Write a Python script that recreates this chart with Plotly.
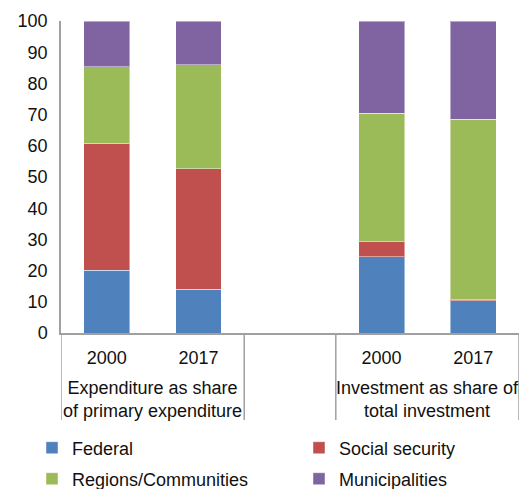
import plotly.graph_objects as go

categories = ["Exp 2000", "Exp 2017", "gap", "Inv 2000", "Inv 2017"]
tick_labels = ["2000", "2017", "", "2000", "2017"]
group_labels = ["Expenditure as share<br>of primary expenditure",
                "Investment as share of<br>total investment"]

federal = [20.1, 14.0, None, 24.4, 10.3]
social_security = [40.7, 38.7, None, 4.9, 0.4]
regions = [24.6, 33.2, None, 41.2, 57.8]
municipalities = [14.6, 14.1, None, 29.5, 31.5]

series = [
    ("Federal", federal, "#4F81BD"),
    ("Social security", social_security, "#C0504D"),
    ("Regions/Communities", regions, "#9BBB59"),
    ("Municipalities", municipalities, "#8064A2"),
]
legend_ids = ["legend", "legend2", "legend3", "legend4"]

fig = go.Figure()
for (name, vals, color), lg in zip(series, legend_ids):
    fig.add_trace(go.Bar(
        x=categories, y=vals, name=name,
        marker=dict(color=color, line=dict(color="rgba(255,255,255,0.45)", width=1)),
        legend=lg,
    ))

W, H = 522, 489
font = dict(family="Liberation Sans, Arial, sans-serif", size=18, color="#111111")
grey = "#A0A0A0"

# group labels and dividers
n = len(categories)
fig.add_annotation(x=0.5, y=-0.213, xref="x", yref="paper", text=group_labels[0],
                   showarrow=False, yanchor="middle", xanchor="center", font=font)
fig.add_annotation(x=3.5, y=-0.213, xref="x", yref="paper", text=group_labels[1],
                   showarrow=False, yanchor="middle", xanchor="center", font=font)
for xd in [-0.5, 1.5, 2.5, n - 0.5]:
    fig.add_shape(type="line", xref="x", yref="paper", x0=xd, x1=xd, y0=0, y1=-0.279,
                  line=dict(color=grey, width=1.5))

legend_pos = {"legend": (32, 448), "legend2": (299, 448),
              "legend3": (32, 479), "legend4": (299, 479)}
leg_layout = {}
for k, (px, py) in legend_pos.items():
    leg_layout[k] = dict(orientation="h", xref="container", yref="container",
                         x=px / W, xanchor="left", y=(H - py) / H, yanchor="middle",
                         font=font, bgcolor="rgba(0,0,0,0)")

fig.update_layout(
    barmode="stack",
    bargap=0.5,
    width=W, height=H,
    margin=dict(l=61, r=3, t=21, b=156),
    paper_bgcolor="white", plot_bgcolor="white",
    font=font,
    showlegend=True,
    **leg_layout,
)
fig.update_yaxes(range=[0, 100], dtick=10, showgrid=False, zeroline=False,
                 showline=True, linecolor=grey, linewidth=1.5, automargin=False,
                 ticks="", ticklabelstandoff=8, tickfont=font)
fig.update_xaxes(type="category", categoryorder="array", categoryarray=categories,
                 range=[-0.5, n - 0.5],
                 tickvals=categories, ticktext=tick_labels,
                 showgrid=False, showline=True, automargin=False,
                 linecolor=grey, linewidth=1.5,
                 ticks="", ticklabelstandoff=8, tickfont=font)

fig.write_html("out.html",
               config={"displayModeBar": False, "responsive": False},
               post_script="document.body.style.margin='0px';")
